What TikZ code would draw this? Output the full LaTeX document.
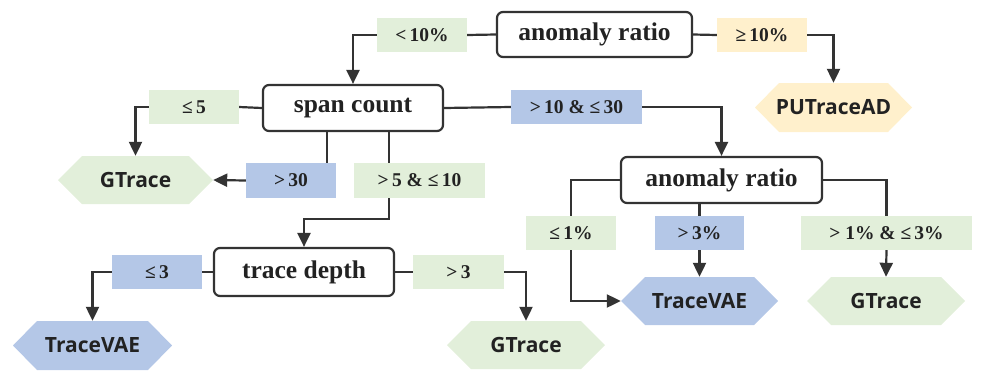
\documentclass[tikz,border=0pt]{standalone}
\usepackage{fontspec}
\setmainfont{Liberation Serif}
\newfontfamily\hexfont{Open Sans}
\usetikzlibrary{arrows.meta}
\definecolor{cgreen}{RGB}{226,239,218}
\definecolor{cblue}{RGB}{180,199,231}
\definecolor{cyellow}{RGB}{255,240,204}
\definecolor{cline}{RGB}{51,51,51}
\definecolor{ctext}{RGB}{34,34,34}
\tikzset{
  decision/.style={draw=cline, line width=2.2pt, rounded corners=6pt, fill=white,
    inner sep=0pt, text=ctext, font=\fontsize{25.5}{29}\selectfont\bfseries},
  cond/.style={fill=#1, inner sep=0pt, text=ctext, font=\fontsize{19.5}{23}\selectfont\bfseries},
  hexnode/.style={inner sep=0pt, text=ctext, font=\hexfont\fontsize{21}{25}\selectfont\bfseries,
    path picture={\fill[#1] (path picture bounding box.west)
      -- ([xshift=24pt]path picture bounding box.north west)
      -- ([xshift=-24pt]path picture bounding box.north east)
      -- (path picture bounding box.east)
      -- ([xshift=-24pt]path picture bounding box.south east)
      -- ([xshift=24pt]path picture bounding box.south west) -- cycle;}},
  conn/.style={draw=cline, line width=2.2pt},
  arr/.style={conn, -{Triangle[length=14pt,width=13pt]}},
}
\begin{document}
\begin{tikzpicture}[x=1pt,y=-1pt]
\useasboundingbox (0,0) rectangle (991,381);
% decision boxes
\node[decision, minimum width=195pt, minimum height=45pt] (ar1) at (594.5,34.5) {anomaly ratio};
\node[decision, minimum width=180pt, minimum height=46pt] (sc) at (353,108) {span count};
\node[decision, minimum width=201pt, minimum height=46pt] (ar2) at (721.5,180) {anomaly ratio};
\node[decision, minimum width=180pt, minimum height=48pt] (td) at (304,272) {trace depth};
% condition labels
\node[cond=cgreen, minimum width=90pt, minimum height=34pt] (l10) at (422,35) {<\,10\%};
\node[cond=cyellow, minimum width=90pt, minimum height=34pt] (g10) at (762,35) {≥\,10\%};
\node[cond=cgreen, minimum width=90pt, minimum height=34pt] (le5) at (194,107) {≤\,5};
\node[cond=cblue, minimum width=131pt, minimum height=34pt] (r1030) at (576.5,107) {>\,10 \& ≤\,30};
\node[cond=cblue, minimum width=90pt, minimum height=35pt] (gt30) at (291,180.5) {>\,30};
\node[cond=cgreen, minimum width=131pt, minimum height=35pt] (r510) at (419.5,180.5) {>\,5 \& ≤\,10};
\node[cond=cgreen, minimum width=90pt, minimum height=34pt] (le1) at (571,233) {≤\,1\%};
\node[cond=cblue, minimum width=89pt, minimum height=34pt] (g3p) at (699.5,233) {>\,3\%};
\node[cond=cgreen, minimum width=171pt, minimum height=34pt] (r13) at (886.5,233) {>\ 1\% \& ≤\,3\%};
\node[cond=cblue, minimum width=90pt, minimum height=34pt] (le3) at (157,272) {≤\,3};
\node[cond=cgreen, minimum width=91pt, minimum height=34pt] (g3) at (458.5,272) {>\,3};
% result hexagons
\node[hexnode=cyellow, minimum width=157pt, minimum height=49pt] (put) at (833.5,107.5) {PUTraceAD};
\node[hexnode=cgreen, minimum width=155pt, minimum height=48pt] (gt1) at (135.5,180) {GTrace};
\node[hexnode=cblue, minimum width=157pt, minimum height=48pt] (tv2) at (699.5,301) {TraceVAE};
\node[hexnode=cgreen, minimum width=158pt, minimum height=48pt] (gt3) at (886,301) {GTrace};
\node[hexnode=cblue, minimum width=159pt, minimum height=49pt] (tv1) at (92.5,345.5) {TraceVAE};
\node[hexnode=cgreen, minimum width=158pt, minimum height=48pt] (gt2) at (526,345) {GTrace};
% connectors
\draw[conn] (ar1.west) -- (l10.east);
\draw[arr] (l10.west) -| (sc.north);
\draw[conn] (ar1.east) -- (g10.west);
\draw[arr] (g10.east) -| (put.north);
\draw[conn] (sc.west) -- (le5.east);
\draw[arr] (le5.west) -| (gt1.north);
\draw[conn] (327,0 |- sc.south) -- (327,0 |- gt30.north);
\draw[arr] (gt30.west) -- (gt1.east);
\draw[conn] (389,0 |- sc.south) -- (389,0 |- r510.north);
\draw[arr] (389,0 |- r510.south) -- (389,219) -| (td.north);
\draw[conn] (sc.east) -- (r1030.west);
\draw[arr] (r1030.east) -| (ar2.north);
\draw[conn] (ar2.west) -| (le1.north);
\draw[arr] (le1.south) |- (tv2.west);
\draw[conn] (ar2.south -| g3p.north) -- (g3p.north);
\draw[arr] (g3p.south) -- (tv2.north);
\draw[conn] (ar2.east) -| (r13.north);
\draw[arr] (r13.south) -- (gt3.north);
\draw[conn] (td.west) -- (le3.east);
\draw[arr] (le3.west) -| (tv1.north);
\draw[conn] (td.east) -- (g3.west);
\draw[arr] (g3.east) -| (gt2.north);
\end{tikzpicture}
\end{document}
